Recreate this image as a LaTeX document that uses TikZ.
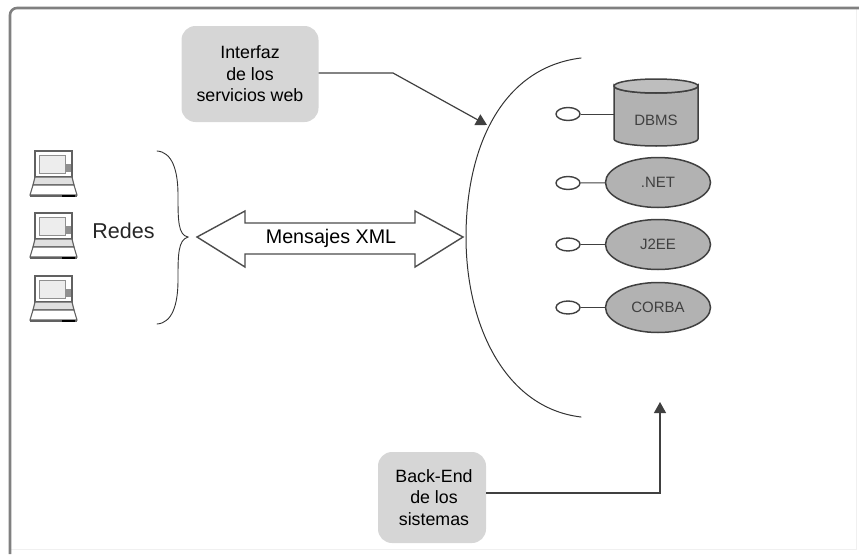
\documentclass[tikz,border=0pt]{standalone}
\usepackage{fontspec}
\setmainfont{Liberation Sans}
\usetikzlibrary{arrows.meta,shapes.geometric}
\definecolor{boxgray}{gray}{0.84}
\definecolor{shapegray}{gray}{0.70}
\definecolor{inkgray}{gray}{0.25}
\definecolor{framegray}{gray}{0.50}
\definecolor{laptopgray}{gray}{0.38}
\tikzset{
  x=1pt,y=-1pt,
  callout/.style={fill=boxgray,rounded corners=14pt,minimum width=137pt,minimum height=96pt,align=center,font=\fontsize{17.8}{21.5}\selectfont,inner sep=0pt},
  callouttwo/.style={callout,minimum width=108pt,minimum height=91pt},
  lead/.style={draw=inkgray,line width=1.2pt,-{Triangle[length=11pt,width=12pt]}},
  backend/.style={draw=inkgray,fill=shapegray,line width=1.5pt},
  tech/.style={backend,ellipse,minimum width=105pt,minimum height=50pt,inner sep=0pt,font=\fontsize{15}{15}\selectfont,text=inkgray},
  port/.style={draw=inkgray,ellipse,line width=1.4pt,fill=white,minimum width=24pt,minimum height=13pt,inner sep=0pt},
  stub/.style={draw=inkgray,line width=1pt},
  curveline/.style={draw=black!80,line width=1pt,line cap=round},
}
\newcommand{\laptop}[2]{%
  \begin{scope}[shift={(#1,#2)}]
    \draw[draw=laptopgray,line width=1.5pt,fill=white] (0,0) rectangle (37,26);
    \fill[black!7] (4,4) rectangle (30,22);
    \draw[draw=laptopgray!70,line width=.8pt] (4,4) rectangle (30,22);
    \fill[laptopgray!70] (31,13) rectangle (36,21);
    \draw[draw=laptopgray,line width=1.2pt,fill=black!12] (0,26) -- (37,26) -- (39,34) -- (-2,34) -- cycle;
    \draw[draw=laptopgray,line width=1.1pt,fill=white] (-2,34) -- (39,34) -- (42,44) -- (-5,44) -- cycle;
    \draw[draw=laptopgray,line width=2.4pt] (-5,45) -- (42,45);
    \draw[draw=black,line width=2.2pt] (27,45) -- (40,45);
  \end{scope}}
\begin{document}
\begin{tikzpicture}
\useasboundingbox (0,0) rectangle (859,554);
\draw[black!6,line width=1pt] (856,8) -- (856,549) -- (10,549);
\draw[framegray,line width=2.6pt,rounded corners=7pt] (10,554) -- (10,8) -- (859,8);

\node[callout] (iface) at (250,74) {Interfaz\\de los\\servicios web};
\node[callouttwo] (back) at (432,497.5) {\hspace*{4pt}Back-End\\\hspace*{4pt}de los\\\hspace*{4pt}sistemas};

% curved front
\coordinate (archtop) at (581,58);
\coordinate (archbot) at (581,417);
\draw[curveline] (archtop) .. controls (500,68) and (466,150) .. (466,237) .. controls (466,325) and (505,408) .. (archbot);

% connectors to arch
\coordinate (ifacebend) at (393,73);
\coordinate (ifacetip) at (487,125);
\draw[lead] (iface.east |- ifacebend) -- (ifacebend) -- (ifacetip);
\coordinate (backbend) at (660,493);
\coordinate (backtip) at (660,402);
\draw[lead] (back.east |- backbend) -- (backbend) -- (backtip);

% back-end systems
\path[backend] (614,86) -- (614,139) arc[start angle=180,end angle=360,x radius=42pt,y radius=7pt] -- (698,86) arc[start angle=0,end angle=-180,x radius=42pt,y radius=7pt] -- cycle;
\path[draw=inkgray,fill=shapegray!85,line width=1.5pt] (656,86) ellipse[x radius=42pt,y radius=7pt];
\node[font=\fontsize{15}{15}\selectfont,text=inkgray,inner sep=0pt] (dbms) at (656,120) {DBMS};
\node[port] (p1) at (568,114) {};
\draw[stub] (p1.east) -- (614,114);

\node[tech] (net) at (658,182.5) {.NET};
\node[tech] (j2ee) at (658,244.5) {J2EE};
\node[tech] (corba) at (658,307.5) {CORBA};
\node[port] (p2) at (568,183) {};
\node[port] (p3) at (568,244.5) {};
\node[port] (p4) at (568,307.5) {};
\draw[stub] (p2) -- (net);
\draw[stub] (p3) -- (j2ee);
\draw[stub] (p4) -- (corba);

% message arrow
\coordinate (la) at (197,237);
\coordinate (ra) at (463,237);
\draw[draw=black!70,line width=1.4pt,fill=white,line join=miter]
  (la) -- (245,211) -- (245,223) -- (415,223) -- (415,211) -- (ra) -- (415,267) -- (415,254) -- (245,254) -- (245,267) -- cycle;
\node[font=\fontsize{19.7}{19.7}\selectfont,inner sep=0pt] (msg) at (331,238) {Mensajes XML};

% brace
\coordinate (bracetop) at (157,151);
\coordinate (bracetip) at (188,237);
\coordinate (bracebot) at (157,324);
\draw[curveline,line width=.9pt] (bracetop) .. controls (172,152) and (178,170) .. (178,195) .. controls (178,220) and (178,235) .. (bracetip) .. controls (178,240) and (178,255) .. (178,280) .. controls (178,305) and (172,323) .. (bracebot);

\node[font=\fontsize{21.5}{21.5}\selectfont,inner sep=0pt,text=black!85] (redes) at (123.5,231) {Redes};

\laptop{35}{151}
\laptop{35}{213}
\laptop{35}{276}
\end{tikzpicture}
\end{document}
